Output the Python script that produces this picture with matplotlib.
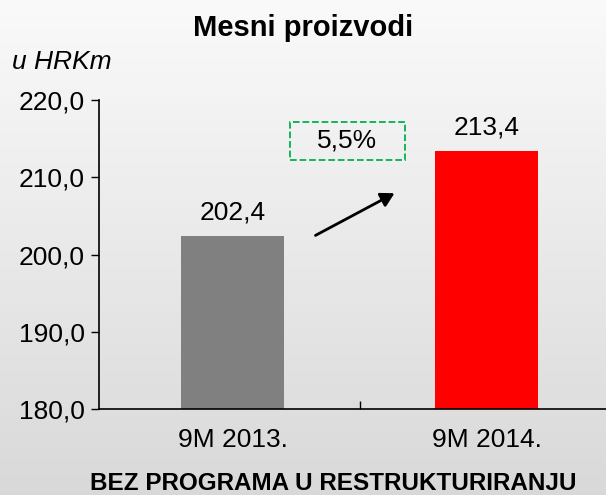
import matplotlib
matplotlib.use('Agg')
import matplotlib.pyplot as plt
from matplotlib.patches import Rectangle
import numpy as np

plt.rcParams['font.family'] = ['Liberation Sans', 'DejaVu Sans']

# podaci
kategorije = ["9M 2013.", "9M 2014."]
vrijednosti = [202.4, 213.4]
oznake = ["202,4", "213,4"]
boje = ["#808080", "#ff0000"]
y_ticks = [180, 190, 200, 210, 220]
y_labels = ["180,0", "190,0", "200,0", "210,0", "220,0"]
rast = "5,5%"

fig = plt.figure(figsize=(6.06, 4.95), dpi=100)

# pozadina s gradijentom (svijetlo gore, sivo dolje)
bg = fig.add_axes([0, 0, 1, 1], zorder=-10)
grad = np.linspace(0.98, 0.85, 256).reshape(-1, 1)
bg.imshow(np.dstack([grad, grad, grad]), aspect='auto', extent=[0, 1, 0, 1])
bg.axis('off')

ax = fig.add_axes([99/606, 1 - 409/495, 508/606, 309/495])
ax.patch.set_alpha(0)
pom = 0.026  # malo pomicanje kategorija udesno
x = np.arange(len(kategorije)) + pom
ax.bar(x, vrijednosti, width=0.405, color=boje, zorder=2)

for xi, v, t in zip(x, vrijednosti, oznake):
    ax.text(xi, v + 1.5, t, ha='center', va='bottom', fontsize=19)

ax.set_xlim(-0.5, 1.5)
ax.set_ylim(180, 220)
ax.set_yticks(y_ticks)
ax.set_yticklabels(y_labels, fontsize=19)
ax.set_xticks([0.5 + pom])
ax.set_xticklabels([""])
ax.set_xticks(x, minor=True)
ax.set_xticklabels(kategorije, minor=True, fontsize=19)
ax.tick_params(axis='x', which='minor', length=0, pad=14)
ax.tick_params(axis='x', which='major', length=6, direction='in', width=1)
ax.tick_params(axis='y', length=6, direction='out', width=1, pad=4)
for s in ['top', 'right']:
    ax.spines[s].set_visible(False)
ax.spines['left'].set_linewidth(1.2)
ax.spines['bottom'].set_linewidth(1.2)
ax.spines['bottom'].set_clip_on(False)

# strelica rasta
ax.annotate("", xy=(0.673, 208.1), xytext=(0.3425, 202.3),
            arrowprops=dict(arrowstyle='-|>,head_length=0.8,head_width=0.45', color='black', lw=2),
            annotation_clip=False)
ax.add_patch(Rectangle((0.252, 212.23), 0.453, 4.92, fill=False, ec='#00b050', ls='--', lw=1.3))
ax.text(0.478, 214.7, rast, ha='center', va='center', fontsize=19)

fig.text(0.5, 1 - 28/495, "Mesni proizvodi", ha='center', va='center', fontsize=21, fontweight='bold')
fig.text(12/606, 1 - 62/495, "u HRKm", ha='left', va='center', fontsize=19, style='italic')
fig.text(333/606, 1 - 484/495, "BEZ PROGRAMA U RESTRUKTURIRANJU", ha='center', va='center',
         fontsize=17.5, fontweight='bold')

fig.savefig('out.png', dpi=100)
